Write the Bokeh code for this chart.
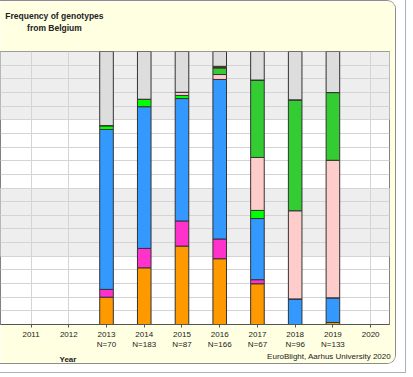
from bokeh.plotting import figure
from bokeh.models import FixedTicker, Grid, ColumnDataSource, Title, LinearAxis
from bokeh.layouts import column
from bokeh.embed import file_html
from bokeh.resources import INLINE

# ---- data (counts per genotype) ----
years = [2013, 2014, 2015, 2016, 2017, 2018, 2019]
n_isolates = [70, 183, 87, 166, 67, 96, 133]
tick_years = [2011, 2012, 2013, 2014, 2015, 2016, 2017, 2018, 2019, 2020]
genotypes = ["EU_6_A1", "EU_1_A1", "EU_13_A2", "EU_33_A2", "EU_37_A2", "EU_36_A2", "EU_41_A2", "Other"]
orange_g = [7, 38, 25, 40, 10, 0, 1]
magenta_g = [2, 13, 8, 12, 1, 0, 0]
blue_g = [41, 95, 39, 97, 15, 9, 12]
brightgreen_g = [1, 5, 1, 0, 2, 0, 0]
lightpink_g = [0, 0, 1, 3, 13, 31, 67]
green_g = [0, 0, 0, 4, 19, 39, 33]
brown_g = [0, 0, 0, 1, 0, 0, 0]
other_g = [19, 32, 13, 9, 7, 17, 20]
colors = ["#FF9900", "#FF33CC", "#3399FF", "#00FF00", "#FFCCCC", "#33CC33", "#663300", "#DDDDDD"]
title_text = "Frequency of genotypes\nfrom Belgium"
title_pos = 2011.62
credit_text = "EuroBlight, Aarhus University 2020"
credit_pos = 2018.90

series = [orange_g, magenta_g, blue_g, brightgreen_g, lightpink_g, green_g, brown_g, other_g]
data = {"year": years}
for name, s in zip(genotypes, series):
    data[name] = [c / n * 100 for c, n in zip(s, n_isolates)]
src = ColumnDataSource(data)

FONT = "Liberation Sans"
PANEL = "#FFFFE1"
TXT = "#222222"

p = figure(width=396, height=364, x_range=(2010.19, 2020.5), y_range=(0, 100),
           output_backend="svg", toolbar_location=None, y_axis_location=None,
           min_border_left=0, min_border_right=7, min_border_top=50, min_border_bottom=41)
p.border_fill_color = PANEL
p.background_fill_color = "white"
p.outline_line_color = "#808080"

# alternating bands
p.quad(left=2009, right=2022, bottom=[25, 75], top=[50, 100],
       fill_color="#EEEEEE", line_color=None, level="image")

p.xgrid.grid_line_color = "#D4D4D4"
p.xaxis.ticker = FixedTicker(ticks=tick_years)
p.add_layout(Grid(dimension=1, ticker=FixedTicker(ticks=list(range(0, 101, 5))),
                  grid_line_color="#D4D4D4"))

p.vbar_stack(genotypes, x="year", width=0.36, source=src, color=colors,
             line_color="#333333", line_width=1)

overrides = {y: f"{y}\nN={n}" for y, n in zip(years, n_isolates)}
p.xaxis.major_label_overrides = overrides
p.xaxis.major_label_text_font = FONT
p.xaxis.major_label_text_font_size = "8px"
p.xaxis.major_label_text_color = TXT
p.xaxis.major_label_standoff = 2
p.xaxis.major_tick_in = 0
p.xaxis.major_tick_out = 3
p.xaxis.minor_tick_line_color = None
p.xaxis.axis_line_color = "#555555"
p.xaxis.major_tick_line_color = "#555555"

# two-line chart title, held by a bare axis above the frame
title_axis = LinearAxis(ticker=FixedTicker(ticks=[title_pos]),
                        major_label_overrides={title_pos: title_text},
                        axis_line_color=None, major_tick_line_color=None,
                        minor_tick_line_color=None, major_tick_in=0, major_tick_out=0,
                        major_label_standoff=19,
                        major_label_text_font=FONT, major_label_text_font_size="8.5px",
                        major_label_text_font_style="bold", major_label_text_color=TXT)
p.add_layout(title_axis, "above")

# texts below the axis
p.add_layout(Title(text="Year", align="left", offset=59, standoff=0,
                   text_font=FONT, text_font_size="8px", text_font_style="bold",
                   text_color=TXT), "below")
credit_axis = LinearAxis(ticker=FixedTicker(ticks=[credit_pos]),
                         major_label_overrides={credit_pos: credit_text},
                         axis_line_color=None, major_tick_line_color=None,
                         minor_tick_line_color=None, major_tick_in=0, major_tick_out=0,
                         major_label_standoff=-12,
                         major_label_text_font=FONT, major_label_text_font_size="8px",
                         major_label_text_color=TXT)
p.add_layout(credit_axis, "below")

p.styles = {"border-top": "1px solid #8C8C8C", "border-right": "1px solid #8C8C8C",
            "border-bottom": "1px solid #8C8C8C", "border-radius": "0 9px 9px 0",
            "overflow": "hidden"}

layout = column(p, styles={"padding-right": "9px", "padding-bottom": "8px",
                           "border-right": "1px solid #A9B2BC",
                           "border-bottom": "1px solid #A9B2BC"})

open("out.html", "w").write(file_html(layout, INLINE))
